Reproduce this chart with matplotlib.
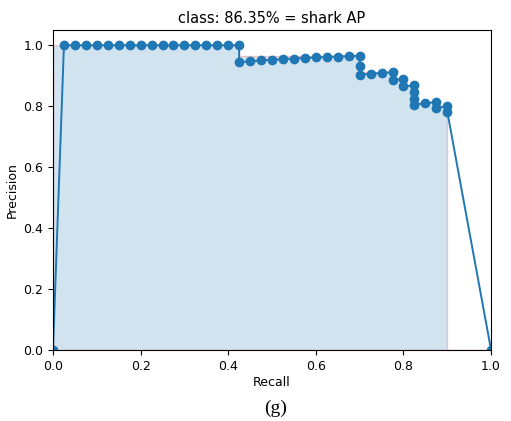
import matplotlib
matplotlib.use("Agg")
import matplotlib.pyplot as plt
import numpy as np

class_name = "shark"
ap_text = "86.35%"

# recall / precision points (start at 0, end at recall 1)
recall = [0.0,
          0.025, 0.05, 0.075, 0.1, 0.125, 0.15, 0.175, 0.2, 0.225, 0.25,
          0.275, 0.3, 0.325, 0.35, 0.375, 0.4, 0.425,
          0.425, 0.45, 0.475, 0.5, 0.525, 0.55, 0.575, 0.6, 0.625, 0.65,
          0.675, 0.7, 0.7, 0.7, 0.725, 0.75, 0.775, 0.775, 0.8, 0.8,
          0.825, 0.825, 0.825, 0.825, 0.85, 0.875, 0.875, 0.9, 0.9,
          1.0]
precision = [0.0,
             1.0, 1.0, 1.0, 1.0, 1.0, 1.0, 1.0, 1.0, 1.0, 1.0,
             1.0, 1.0, 1.0, 1.0, 1.0, 1.0, 1.0,
             0.9444, 0.9474, 0.95, 0.9524, 0.9545, 0.9565, 0.9583, 0.96,
             0.9615, 0.963, 0.9643, 0.9655, 0.9333, 0.9032, 0.9063, 0.9091,
             0.9118, 0.8857, 0.8889, 0.8649, 0.8684, 0.8462, 0.825, 0.8049,
             0.8095, 0.814, 0.7955, 0.8, 0.7826,
             0.0]

fig = plt.figure(figsize=(5.11, 4.21), dpi=100)
ax = fig.add_axes([0.1037, 0.1686, 0.8573, 0.7601])

ax.plot(recall, precision, '-o', markersize=6, linewidth=1.4)

# precision envelope used for the AP area
mrec = list(recall)
mprec = list(precision)
for i in range(len(mprec) - 2, -1, -1):
    mprec[i] = max(mprec[i], mprec[i + 1])
area_x = mrec[:-1] + [mrec[-2]] + [mrec[-1]]
area_y = mprec[:-1] + [0.0] + [mprec[-1]]
ax.fill_between(area_x, 0, area_y, alpha=0.2, edgecolor='r')

ax.set_title("class: " + ap_text + " = " + class_name + " AP", fontsize=10.5,
             pad=5)
ax.set_xlabel("Recall", fontsize=9, labelpad=2.5)
ax.set_ylabel("Precision", fontsize=9, labelpad=3)
ax.tick_params(labelsize=9)
ax.set_xlim(0.0, 1.0)
ax.set_ylim(0.0, 1.05)

fig.text(0.54, 0.031, "(g)", family="Liberation Serif", fontsize=14,
         ha="center", va="center")

fig.savefig("out.png", dpi=100)
